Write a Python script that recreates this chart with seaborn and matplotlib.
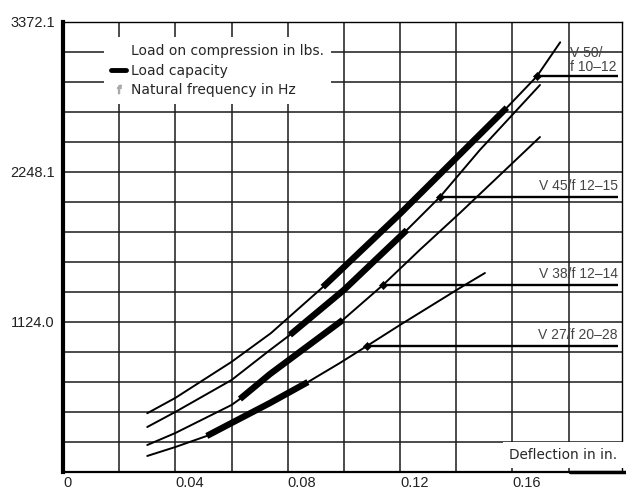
import numpy as np
import pandas as pd
import matplotlib
matplotlib.use("Agg")
import matplotlib.pyplot as plt
from matplotlib.lines import Line2D
import seaborn as sns

sns.set_theme(style="white")
plt.rcParams["font.family"] = ["DejaVu Sans"]
NARROW = ["Liberation Sans", "DejaVu Sans"]

# values: deflection (in) vs load (lbs)
series = ["V 50", "V 45", "V 38", "V 27"]
v50_x = [0.030, 0.040, 0.060, 0.074, 0.0925, 0.100, 0.120, 0.158, 0.1687, 0.177]
v50_y = [440, 555, 825, 1040, 1385, 1535, 1935, 2730, 2965, 3220]
v45_x = [0.030, 0.040, 0.060, 0.0737, 0.0808, 0.100, 0.1224, 0.1342, 0.1484, 0.1698]
v45_y = [337, 450, 689, 914, 1027, 1364, 1813, 2061, 2413, 2900]
v38_x = [0.030, 0.040, 0.060, 0.063, 0.0737, 0.0996, 0.1139, 0.127, 0.1413, 0.1698]
v38_y = [202, 292, 502, 547, 734, 1139, 1401, 1664, 1941, 2510]
v27_x = [0.030, 0.040, 0.0512, 0.060, 0.0737, 0.0872, 0.0986, 0.1082, 0.120, 0.1413, 0.1502]
v27_y = [120, 187, 270, 367, 517, 674, 817, 944, 1102, 1379, 1491]

# load capacity range (deflection) for each spring
cap_lo = [0.0925, 0.0808, 0.063, 0.0512]
cap_hi = [0.158, 0.1224, 0.0996, 0.0872]

# point where the natural frequency label is attached
freq_x = [0.1687, 0.1342, 0.1139, 0.1082]
freq_y = [2965, 2061, 1401, 944]
freq_labels = ["V 50/\nf 10\u201312", "V 45/f 12\u201315", "V 38/f 12\u201314", "V 27/f 20\u201328"]

y_ticks = [1124.0, 2248.1, 3372.1]
x_ticks = [0, 0.04, 0.08, 0.12, 0.16]

xs = [v50_x, v45_x, v38_x, v27_x]
ys = [v50_y, v45_y, v38_y, v27_y]
df = pd.concat([pd.DataFrame({"series": s, "deflection": x, "load": y})
                for s, x, y in zip(series, xs, ys)], ignore_index=True)
lo = df["series"].map(dict(zip(series, cap_lo)))
hi = df["series"].map(dict(zip(series, cap_hi)))
cap = df[(df["deflection"] >= lo - 1e-9) & (df["deflection"] <= hi + 1e-9)]

fig = plt.figure(figsize=(6.26, 4.92), dpi=100)
ax = fig.add_axes([0.1006, 0.0407, 0.893, 0.9146])

sns.lineplot(data=df, x="deflection", y="load", units="series", estimator=None,
             sort=False, color="black", lw=1.4, legend=False, ax=ax, zorder=3)
sns.lineplot(data=cap, x="deflection", y="load", units="series", estimator=None,
             sort=False, color="black", lw=4.6, legend=False, ax=ax, zorder=3,
             solid_capstyle="butt")

x_end = 0.1975
ax.hlines(freq_y, freq_x, x_end, color="black", lw=1.7, zorder=3)
sns.scatterplot(x=freq_x, y=freq_y, marker="D", s=18, color="black",
                edgecolor="black", ax=ax, zorder=4, legend=False)
for fx, fy, lab in zip(freq_x, freq_y, freq_labels):
    if "\n" in lab:
        ax.annotate(lab, (0.1805, fy), xytext=(0, 2), textcoords="offset points",
                    ha="left", va="bottom", fontsize=10, color="#444444",
                    family=NARROW, linespacing=0.95)
    else:
        ax.annotate(lab, (x_end, fy), xytext=(0, 3), textcoords="offset points",
                    ha="right", va="bottom", fontsize=10, color="#444444",
                    family=NARROW)

# axes, grid
ax.set_xlim(0, 0.199)
ax.set_ylim(0, 3372.1)
ax.set_xticks(np.arange(0, 0.19, 0.02))
ax.set_xticklabels([f"{t:g}" if any(abs(t - v) < 1e-9 for v in x_ticks) else ""
                    for t in np.arange(0, 0.19, 0.02)])
ygrid = np.linspace(0, 3372.1, 16)
ax.set_yticks(ygrid)
ax.set_yticklabels([f"{t:.1f}" if any(abs(t - v) < 0.1 for v in y_ticks) else ""
                    for t in ygrid])
for lbl in ax.get_xticklabels():
    lbl.set_ha("left")
    lbl.set_family(NARROW)
for lbl in ax.get_yticklabels():
    lbl.set_family(NARROW)
ax.tick_params(axis="both", length=0, labelsize=10.5, colors="#222222")
ax.tick_params(axis="y", pad=6)
ax.tick_params(axis="x", pad=3)
ax.grid(True, color="#1a1a1a", lw=1.1)
ax.set_axisbelow(True)
ax.set_xlabel("")
ax.set_ylabel("")
ax.spines["left"].set_linewidth(3)
ax.spines["bottom"].set_linewidth(1.6)
ax.spines["top"].set_linewidth(1.0)
ax.spines["right"].set_linewidth(1.0)
for sp in ax.spines.values():
    sp.set_color("black")

handles = [
    Line2D([], [], linestyle="none"),
    Line2D([], [], color="black", lw=3.5),
    Line2D([], [], linestyle="none", marker="$\\mathrm{f}$", color="#aaaaaa", markersize=6),
]
labels = ["Load on compression in lbs.", "Load capacity", "Natural frequency in Hz"]
leg = ax.legend(handles, labels, loc="upper left", bbox_to_anchor=(0.074, 0.966),
                frameon=True, fancybox=False, facecolor="white", edgecolor="none",
                framealpha=1, fontsize=10, handlelength=1.05, handletextpad=0.35,
                labelspacing=0.38, borderpad=0.5, borderaxespad=0)
leg.set_zorder(5)

ax.text(0.992, 0.037, "Deflection in in.", transform=ax.transAxes, ha="right",
        va="center", fontsize=9.8, zorder=6,
        bbox=dict(boxstyle="square,pad=0.45", facecolor="white", edgecolor="none"))
ax.axhline(0, xmin=0.907, xmax=1.01, color="black", lw=2.5, clip_on=False, zorder=7)

fig.savefig("out.png", dpi=100)
